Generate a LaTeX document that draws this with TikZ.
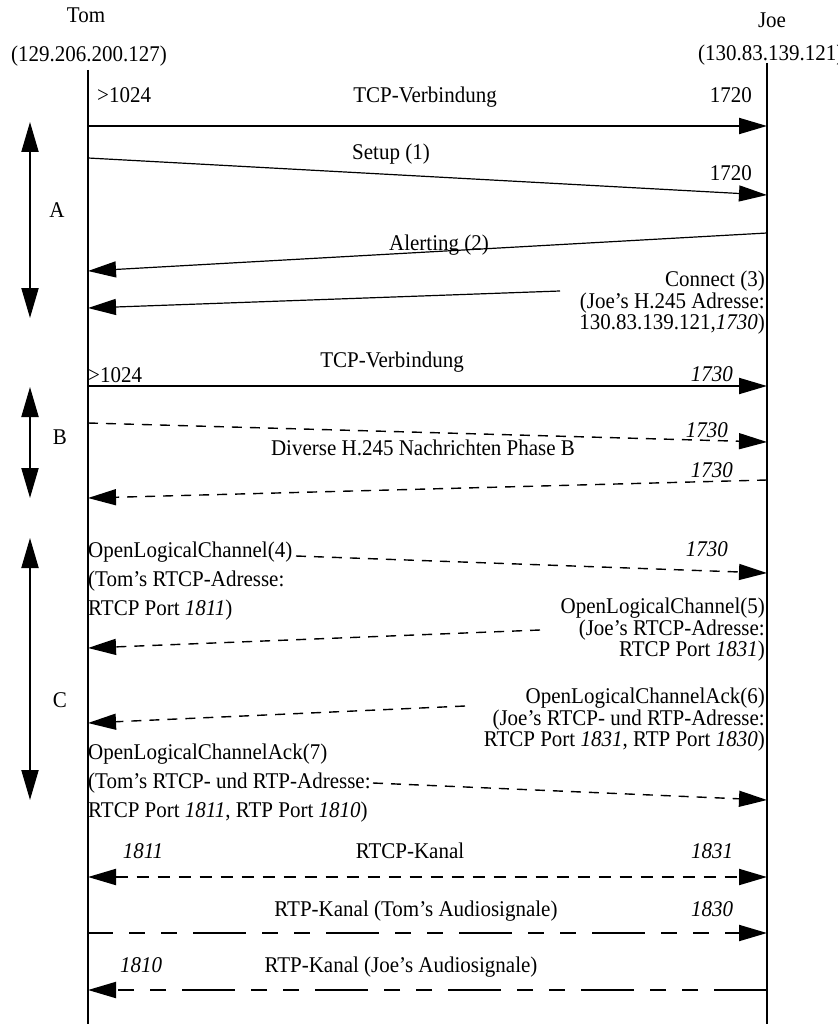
\documentclass[tikz,border=0pt]{standalone}
\usepackage{fontspec}
\setmainfont{Liberation Serif}
\usetikzlibrary{arrows.meta,positioning}

\tikzset{
  lifeline/.style={line width=2pt},
  msgline/.style={-{Triangle[length=28pt,width=16pt]}, line width=1.2pt},
  tcpline/.style={msgline, line width=2pt},
  hmsg/.style={msgline, line width=1.4pt, dash pattern=on 10pt off 8pt},
  rtcpline/.style={{Triangle[length=28pt,width=16pt]}-{Triangle[length=28pt,width=16pt]},
    line width=2pt, dash pattern=on 12pt off 9pt},
  rtpline/.style={msgline, line width=2pt,
    dash pattern=on 53pt off 16pt on 16pt off 16pt on 16pt off 16pt},
  phasearrow/.style={{Triangle[length=30pt,width=17pt]}-{Triangle[length=30pt,width=17pt]},
    line width=2pt},
  txt/.style={font=\fontsize{21}{27}\selectfont, inner sep=0pt, anchor=base, yscale=1.07},
  port/.style={txt, font=\fontsize{21}{27}\selectfont\itshape},
  leftblock/.style={txt, align=left, anchor=north west},
  rightblock/.style={txt, font=\fontsize{21}{18}\selectfont, align=right, anchor=north east},
}

\begin{document}
\begin{tikzpicture}[x=1pt, y=-1pt]
  \useasboundingbox (0,0) rectangle (837,1024);

  % participants
  \node[txt] (tom) at (86,23) {Tom};
  \node[txt] (tomip) at (89,62) {(129.206.200.127)};
  \node[txt] (joe) at (772,28) {Joe};
  \node[txt, anchor=base west] (joeip) at (698,61) {(130.83.139.121)};
  \coordinate (tomtop) at (88,70);
  \coordinate (tombot) at (88,1024);
  \coordinate (joetop) at (767,63);
  \coordinate (joebot) at (767,1024);
  \draw[lifeline] (tomtop) -- (tombot);
  \draw[lifeline] (joetop) -- (joebot);

  % phases
  \coordinate (atop) at (30,122); \coordinate (abot) at (30,318);
  \coordinate (btop) at (30,387); \coordinate (bbot) at (30,498);
  \coordinate (ctop) at (30,538); \coordinate (cbot) at (30,800);
  \draw[phasearrow] (atop) -- (abot);
  \draw[phasearrow] (btop) -- (bbot);
  \draw[phasearrow] (ctop) -- (cbot);
  \node[txt, anchor=center] (pa) at (57,210) {A};
  \node[txt, anchor=center] (pb) at (60,437) {B};
  \node[txt, anchor=center] (pc) at (60,700) {C};

  % phase A: Q.931
  \coordinate (tcp1s) at (88,126); \coordinate (tcp1e) at (767,126);
  \draw[tcpline] (tcp1s) -- (tcp1e);
  \node[txt, anchor=base west] (tcp1src) at (97,103) {>1024};
  \node[txt] (tcp1lbl) at (425,103) {TCP-Verbindung};
  \node[txt, anchor=base east] (tcp1dst) at (752,103) {1720};

  \coordinate (setups) at (88,158); \coordinate (setupe) at (767,195);
  \draw[msgline] (setups) -- (setupe);
  \node[txt] (setuplbl) at (391,160) {Setup (1)};
  \node[txt, anchor=base east] (setupdst) at (752,181) {1720};

  \coordinate (alerts) at (767,233); \coordinate (alerte) at (88,271);
  \draw[msgline] (alerts) -- (alerte);
  \node[txt] (alertlbl) at (439,250) {Alerting (2)};

  \node[rightblock] (connlbl) at (765,271)
    {Connect (3)\\(Joe's H.245 Adresse:\\130.83.139.121,\textit{1730})};
  \coordinate (conns) at (560,291); \coordinate (conne) at (88,308);
  \draw[msgline] (conns) -- (conne);

  % phase B: H.245
  \coordinate (tcp2s) at (88,386); \coordinate (tcp2e) at (767,386);
  \draw[tcpline] (tcp2s) -- (tcp2e);
  \node[txt, anchor=base west] (tcp2src) at (88,382) {>1024};
  \node[txt] (tcp2lbl) at (392,367) {TCP-Verbindung};
  \node[port, anchor=base east] (tcp2dst) at (733,381) {1730};

  \coordinate (hb1s) at (88,423); \coordinate (hb1e) at (767,442);
  \draw[hmsg] (hb1s) -- (hb1e);
  \node[port, anchor=base east] (hb1dst) at (728,437) {1730};
  \node[txt] (hblbl) at (423,455) {Diverse H.245 Nachrichten Phase B};

  \coordinate (hb2s) at (767,480); \coordinate (hb2e) at (88,498);
  \draw[hmsg] (hb2s) -- (hb2e);
  \node[port, anchor=base east] (hb2src) at (733,477) {1730};

  % phase C: logical channels
  \node[leftblock] (olc4lbl) at (88,542)
    {OpenLogicalChannel(4)\\(Tom's RTCP-Adresse:\\RTCP Port \textit{1811})};
  \coordinate (olc4s) at (296,556); \coordinate (olc4e) at (767,573);
  \draw[hmsg] (olc4s) -- (olc4e);
  \node[port, anchor=base east] (olc4dst) at (728,556) {1730};

  \node[rightblock] (olc5lbl) at (765,598)
    {OpenLogicalChannel(5)\\(Joe's RTCP-Adresse:\\RTCP Port \textit{1831})};
  \coordinate (olc5s) at (540,630); \coordinate (olc5e) at (88,648);
  \draw[hmsg] (olc5s) -- (olc5e);

  \node[rightblock] (ack6lbl) at (765,688)
    {OpenLogicalChannelAck(6)\\(Joe's RTCP- und RTP-Adresse:\\RTCP Port \textit{1831}, RTP Port \textit{1830})};
  \coordinate (ack6s) at (465,706); \coordinate (ack6e) at (88,723);
  \draw[hmsg] (ack6s) -- (ack6e);

  \node[leftblock] (ack7lbl) at (88,744)
    {OpenLogicalChannelAck(7)\\(Tom's RTCP- und RTP-Adresse:\\RTCP Port \textit{1811}, RTP Port \textit{1810})};
  \coordinate (ack7s) at (373,783); \coordinate (ack7e) at (767,800);
  \draw[hmsg] (ack7s) -- (ack7e);

  % media channels
  \coordinate (rtcps) at (88,877); \coordinate (rtcpe) at (767,877);
  \draw[rtcpline] (rtcps) -- (rtcpe);
  \node[port] (rtcpsrc) at (143,858) {1811};
  \node[txt] (rtcplbl) at (410,858) {RTCP-Kanal};
  \node[port] (rtcpdst) at (712,858) {1831};

  \coordinate (rtp1s) at (88,933); \coordinate (rtp1e) at (767,933);
  \draw[rtpline, dash phase=28pt] (rtp1s) -- (rtp1e);
  \node[txt] (rtp1lbl) at (416,916) {RTP-Kanal (Tom's Audiosignale)};
  \node[port] (rtp1dst) at (712,916) {1830};

  \coordinate (rtp2s) at (767,990); \coordinate (rtp2e) at (88,990);
  \draw[rtpline] (rtp2s) -- (rtp2e);
  \node[port] (rtp2src) at (141,972) {1810};
  \node[txt] (rtp2lbl) at (401,972) {RTP-Kanal (Joe's Audiosignale)};
\end{tikzpicture}
\end{document}
